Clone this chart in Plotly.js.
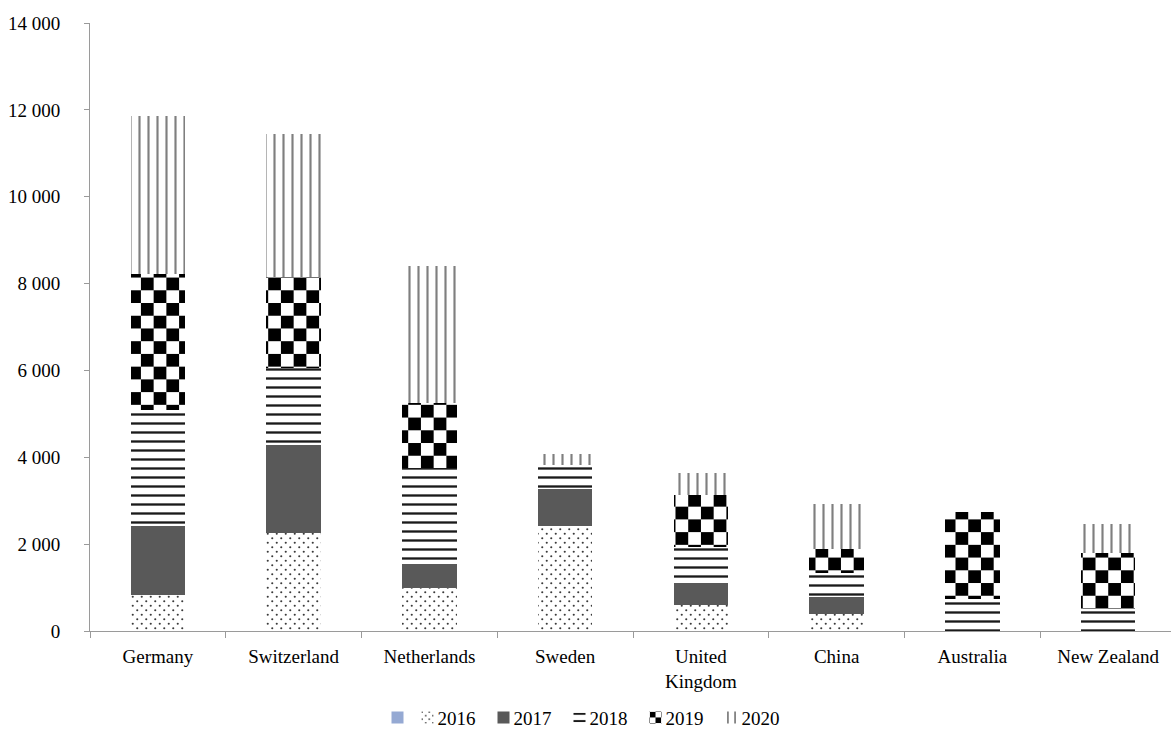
<!DOCTYPE html>
<html>
<head>
<meta charset="utf-8">
<script src="https://cdn.plot.ly/plotly-3.0.1.min.js"></script>
<style>
html,body{margin:0;padding:0;overflow:hidden;background:#fff;}
#chart{width:1180px;height:736px;}
</style>
</head>
<body>
<div id="chart"></div>
<script>
// ---- data ----
const countries = ['Germany', 'Switzerland', 'Netherlands', 'Sweden', 'United<br>Kingdom', 'China', 'Australia', 'New Zealand'];
const years = ['2016', '2017', '2018', '2019', '2020'];
const v2016 = [830, 2260, 990, 2420, 610, 390, 0, 0];
const v2017 = [1590, 2020, 550, 850, 490, 390, 0, 0];
const v2018 = [2680, 1780, 2210, 550, 830, 550, 740, 500];
const v2019 = [3130, 2090, 1500, 0, 1200, 550, 2000, 1290];
const v2020 = [3630, 3290, 3150, 250, 510, 1040, 0, 670];
const blankSeries = [null, null, null, null, null, null, null, null];
const yTicks = [0, 2000, 4000, 6000, 8000, 10000, 12000, 14000];

const FONT = 'Liberation Serif, Times New Roman, serif';
const CHECK_MARK = '#010101';
const DOT_MARK = '#020202';

const series = [v2016, v2017, v2018, v2019, v2020];
const patterns = [
  {shape: '.', size: 9, solidity: 0.05, fgcolor: DOT_MARK, bgcolor: '#ffffff', fillmode: 'replace'},
  null,
  {shape: '-', size: 9, solidity: 0.26, fgcolor: '#1a1a1a', bgcolor: '#ffffff', fillmode: 'replace'},
  {shape: 'x', size: 18, solidity: 0.3, fgcolor: CHECK_MARK, bgcolor: '#ffffff', fillmode: 'replace'},
  {shape: '|', size: 9, solidity: 0.24, fgcolor: '#7f7f7f', bgcolor: '#ffffff', fillmode: 'replace'}
];

const data = [{
  type: 'bar', x: countries, y: blankSeries, name: ' ',
  marker: {color: '#95a9d3', line: {width: 0}}, hoverinfo: 'skip'
}];
series.forEach((vals, i) => {
  const m = {color: i === 1 ? '#595959' : '#ffffff', line: {width: 0}};
  if (patterns[i]) m.pattern = patterns[i];
  data.push({type: 'bar', x: countries, y: vals, name: years[i], marker: m});
});

const layout = {
  width: 1180, height: 736,
  margin: {l: 90, r: 4, t: 23, b: 105},
  barmode: 'stack',
  bargap: 0.6,
  separators: '. ',
  paper_bgcolor: '#ffffff', plot_bgcolor: '#ffffff',
  font: {family: FONT, size: 19, color: '#000000'},
  showlegend: true,
  legend: {
    orientation: 'h', x: 0.497, xanchor: 'center', yref: 'container', y: 0.025, yanchor: 'middle',
    font: {family: FONT, size: 19, color: '#000'}, itemwidth: 30, traceorder: 'normal'
  },
  xaxis: {
    type: 'category', showline: true, linecolor: '#9a9a9a', linewidth: 1,
    ticks: 'outside', tickson: 'boundaries', ticklen: 6, tickcolor: '#9a9a9a',
    ticklabelstandoff: 8,
    showgrid: false, zeroline: false, tickfont: {family: FONT, size: 19, color: '#000'}
  },
  yaxis: {
    range: [0, 14000], tickvals: yTicks, tickformat: ',d',
    showline: true, linecolor: '#9a9a9a', linewidth: 1,
    ticks: 'outside', ticklen: 5, tickcolor: '#9a9a9a',
    ticklabelstandoff: 20,
    showgrid: false, zeroline: false, tickfont: {family: FONT, size: 19, color: '#000'}
  }
};

const gd = document.getElementById('chart');
const NS = 'http://www.w3.org/2000/svg';

function patternHas(p, hex, rgb) {
  const html = p.outerHTML.toLowerCase();
  return html.indexOf(rgb) !== -1 || html.indexOf(hex) !== -1;
}

function fixPatterns() {
  document.querySelectorAll('pattern').forEach(p => {
    const w = parseFloat(p.getAttribute('width')) || 18;
    const h = parseFloat(p.getAttribute('height')) || 18;
    if (patternHas(p, '#010101', 'rgb(1, 1, 1)')) {
      while (p.firstChild) p.removeChild(p.firstChild);
      const bg = document.createElementNS(NS, 'rect');
      bg.setAttribute('x', 0); bg.setAttribute('y', 0);
      bg.setAttribute('width', w); bg.setAttribute('height', h);
      bg.setAttribute('fill', '#ffffff');
      p.appendChild(bg);
      [[0, 0], [w / 2, h / 2]].forEach(([px, py]) => {
        const r = document.createElementNS(NS, 'rect');
        r.setAttribute('x', px); r.setAttribute('y', py);
        r.setAttribute('width', w / 2); r.setAttribute('height', h / 2);
        r.setAttribute('fill', '#000000');
        p.appendChild(r);
      });
    } else if (patternHas(p, '#020202', 'rgb(2, 2, 2)')) {
      while (p.firstChild) p.removeChild(p.firstChild);
      const bg = document.createElementNS(NS, 'rect');
      bg.setAttribute('x', 0); bg.setAttribute('y', 0);
      bg.setAttribute('width', w); bg.setAttribute('height', h);
      bg.setAttribute('fill', '#ffffff');
      p.appendChild(bg);
      [[w * 0.25, h * 0.25], [w * 0.75, h * 0.75]].forEach(([cx, cy]) => {
        const c = document.createElementNS(NS, 'circle');
        c.setAttribute('cx', cx); c.setAttribute('cy', cy);
        c.setAttribute('r', 1.05);
        c.setAttribute('fill', '#3a3a3a');
        p.appendChild(c);
      });
    }
  });
}

function parseT(el) {
  const m = /translate\(\s*([-\d.]+)[ ,]+([-\d.]+)/.exec(el.getAttribute('transform') || '');
  return m ? [parseFloat(m[1]), parseFloat(m[2])] : [0, 0];
}

function tightenLegend() {
  const items = Array.from(gd.querySelectorAll('.legend .traces'));
  if (!items.length) return;
  const GAP = 8, TX = 30;
  let cursor = parseT(items[0])[0];
  items.forEach(it => {
    const txt = it.querySelector('.legendtext');
    let w = 0;
    let empty = true;
    if (txt) {
      txt.setAttribute('x', TX);
      empty = txt.textContent.trim() === '';
      w = txt.getComputedTextLength();
    }
    it.setAttribute('transform', 'translate(' + cursor + ',' + parseT(it)[1] + ')');
    cursor += empty ? 30 : TX + w + GAP;
  });
  let minX = Infinity, maxX = -Infinity;
  items.forEach(it => {
    const t = it.querySelector('.legendtext');
    const pts = it.querySelector('.legendpoints');
    if (pts) { const pr = pts.getBoundingClientRect(); if (pr.width) minX = Math.min(minX, pr.left); }
    if (t && t.textContent.trim() !== '') { const tr = t.getBoundingClientRect(); maxX = Math.max(maxX, tr.right); }
  });
  if (isFinite(minX) && isFinite(maxX)) {
    const shift = 585.5 - (minX + maxX) / 2;
    items.forEach(it => {
      const [x, y] = parseT(it);
      it.setAttribute('transform', 'translate(' + (x + shift) + ',' + y + ')');
    });
  }
  gd.querySelectorAll('clipPath[id*="legend"] rect').forEach(r => {
    r.setAttribute('x', -2000); r.setAttribute('width', 6000);
  });
}

Plotly.newPlot(gd, data, layout, {staticPlot: true, displayModeBar: false}).then(() => {
  fixPatterns();
  tightenLegend();
});
</script>
</body>
</html>
